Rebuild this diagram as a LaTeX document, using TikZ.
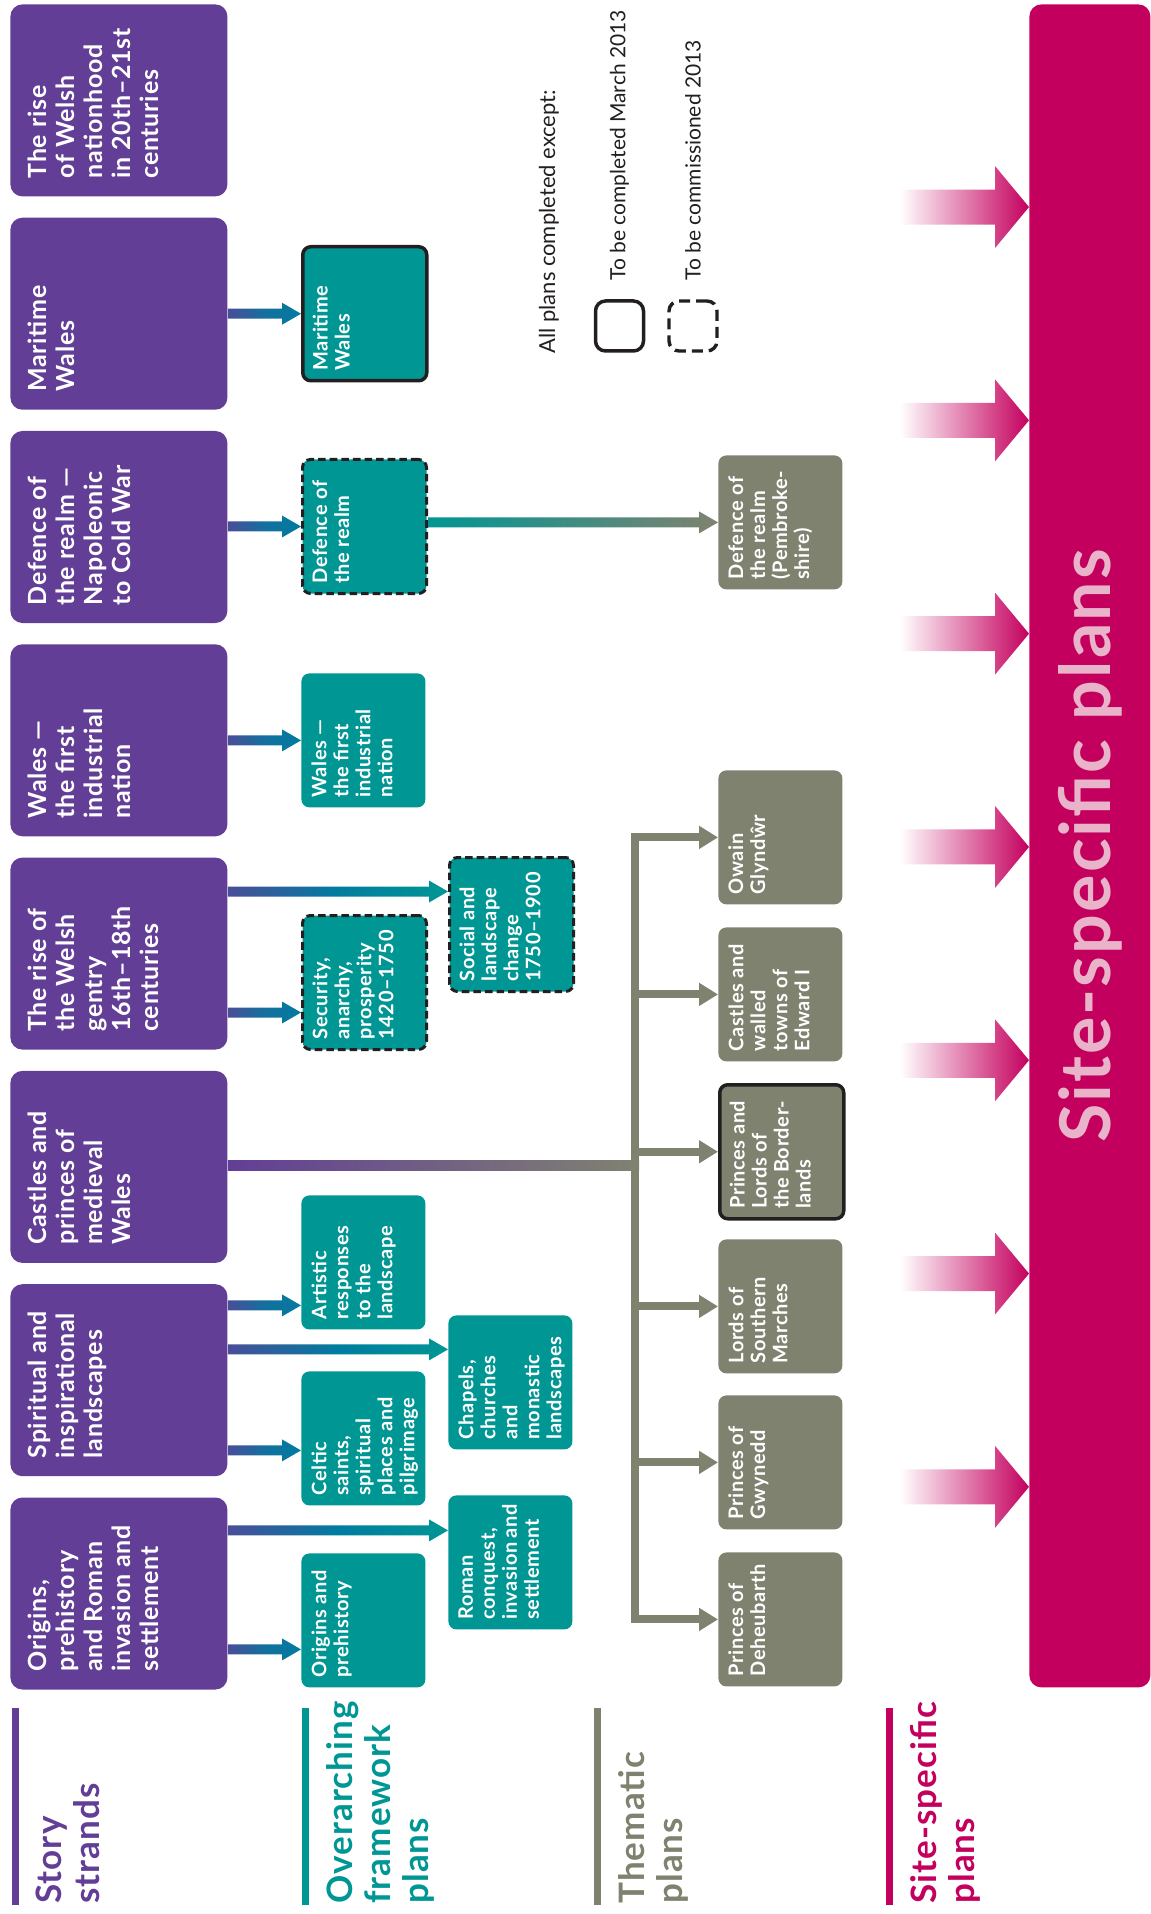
\documentclass[tikz,border=0pt]{standalone}
\usepackage{fontspec}
\setmainfont{Lato}[LetterSpace=3]
\newfontfamily\keyfont{Lato}
\usetikzlibrary{arrows.meta,calc}
\definecolor{storyc}{RGB}{98,62,150}
\definecolor{overc}{RGB}{0,150,148}
\definecolor{themec}{RGB}{128,130,112}
\definecolor{sitec}{RGB}{196,0,94}
\definecolor{feedc}{RGB}{0,124,160}
\definecolor{sitetextc}{RGB}{233,180,201}
\definecolor{inkc}{RGB}{35,31,32}
% text read bottom to top, starting in the lower left corner of its box
\newcommand{\uptext}[3]{\rotatebox{90}{\parbox[c][#1][t]{#2}{\raggedright #3}}}

\begin{document}
\begin{tikzpicture}[x=.5pt,y=-.5pt,line join=round,
  story/.style={fill=storyc,rounded corners=6pt,anchor=north west,
    minimum width=108.5pt,minimum height=96pt,inner sep=9pt,text=white,
    font=\bfseries\fontsize{12.5}{14}\selectfont},
  plan/.style={rounded corners=4pt,anchor=north west,minimum width=62pt,
    minimum height=67pt,inner sep=5pt,text=white,
    font=\bfseries\fontsize{10}{11}\selectfont},
  done/.style={draw=inkc,line width=1.75pt},
  todo/.style={draw=inkc,line width=1.5pt,dash pattern=on 3.8pt off 2pt},
  over/.style={plan,fill=overc},
  overdone/.style={over,done},
  overtodo/.style={over,todo},
  theme/.style={plan,fill=themec},
  themedone/.style={theme,done},
  bus/.style={draw=themec,line width=4pt},
  branch/.style={bus,-{Triangle[length=9.5pt,width=11pt]}},
  catlabel/.style={rotate=90,anchor=north west,inner sep=0pt,align=left,
    font=\bfseries\fontsize{17.5}{19}\selectfont},
  keytext/.style={rotate=90,anchor=west,inner sep=0pt,text=inkc,
    font=\keyfont\fontsize{10.5}{13}\selectfont}]
  \useasboundingbox (0,0) rectangle (1150,1914);

  % story strands, top to bottom
  \foreach \i/\txt in {
    1/{The~rise\\of~Welsh\\nationhood\\in~20th–21st\\centuries},
    2/{Maritime\\Wales},
    3/{Defence~of\\the~realm~—\\Napoleonic\\to~Cold~War},
    4/{Wales~—\\the~first\\industrial\\nation},
    5/{The~rise~of\\the~Welsh\\gentry\\16th–18th\\centuries},
    6/{Castles~and\\princes~of\\medieval\\Wales},
    7/{Spiritual~and\\inspirational\\landscapes},
    8/{Origins,\\prehistory\\and~Roman\\invasion~and\\settlement}}
    \node[story] (s\i) at (10,{4+213.3*(\i-1)}) {\uptext{90.5pt}{78pt}{\txt}};

  % overarching framework plans
  \foreach \n/\x/\y/\st/\txt in {
    o1/301/1553/over/{Origins~and\\prehistory},
    o2/301/1371/over/{Celtic\\saints,\\spiritual\\places~and\\pilgrimage},
    o3/301/1195/over/{Artistic\\responses\\to~the\\landscape},
    o4/301/914/overtodo/{Security,\\anarchy,\\prosperity\\1420–1750},
    o5/301/673/over/{Wales~—\\the~first\\industrial\\nation},
    o6/301/458/overtodo/{Defence~of\\the~realm},
    o7/301/245/overdone/{Maritime\\Wales},
    o8/448/1495/over/{Roman\\conquest,\\invasion~and\\settlement},
    o9/448/1315/over/{Chapels,\\churches\\and\\monastic\\landscapes},
    o10/448/856/overtodo/{Social~and\\landscape\\change\\1750–1900}}
    \node[\st] (\n) at (\x,\y) {\uptext{52pt}{57pt}{\txt}};

  % thematic plans
  \foreach \n/\y/\st/\txt in {
    g1/1552/theme/{Princes~of\\Deheubarth},
    g2/1395/theme/{Princes~of\\Gwynedd},
    g3/1239/theme/{Lords~of\\Southern\\Marches},
    g4/1083/themedone/{Princes~and\\Lords~of\\the~Border-\\lands},
    g5/927/theme/{Castles~and\\walled\\towns~of\\Edward~I},
    g6/770/theme/{Owain\\Glyndŵr},
    g7/455/theme/{Defence~of\\the~realm\\(Pembroke-\\shire)}}
    \node[\st] (\n) at (718,\y) {\uptext{52pt}{57pt}{\txt}};

  \node[fill=sitec,rounded corners=6pt,anchor=north west,minimum width=60.5pt,
    minimum height=841.5pt,inner sep=0pt,text=sitetextc,
    font=\bfseries\fontsize{35}{40}\selectfont] (site) at (1029,4)
    {\rotatebox{90}{Site-specific plans}};

  % shaded arrows into the plans
  \foreach \src/\dst/\dy/\ca/\cb/\cc in {
    s2/o7/0/storyc!75!feedc/feedc!80!storyc/feedc,
    s3/o6/0/storyc!75!feedc/feedc!80!storyc/feedc,
    s4/o5/0/storyc!75!feedc/feedc!80!storyc/feedc,
    s5/o4/-15/storyc!75!feedc/feedc!80!storyc/feedc,
    s5/o10/16.5/storyc!75!feedc/feedc/overc,
    s7/o3/-21.5/storyc!75!feedc/feedc!80!storyc/feedc,
    s7/o9/16.5/storyc!75!feedc/feedc/overc,
    s7/o2/-6/storyc!75!feedc/feedc!80!storyc/feedc,
    s8/o8/16/storyc!75!feedc/feedc/overc,
    s8/o1/-14.5/storyc!75!feedc/feedc!80!storyc/feedc,
    o6/g7/0/overc/overc!50!themec/themec}{
    \coordinate (tip) at ([yshift=\dy pt]\dst.west);
    \coordinate (tail) at (\src.east |- tip);
    \shade[left color=\ca,right color=\cc,middle color=\cb]
      ([yshift=2.5pt]tail) -- ([xshift=-9.5pt,yshift=2.5pt]tip)
      -- ([xshift=-9.5pt,yshift=5.5pt]tip) -- (tip)
      -- ([xshift=-9.5pt,yshift=-5.5pt]tip)
      -- ([xshift=-9.5pt,yshift=-2.5pt]tip) -- ([yshift=-2.5pt]tail) -- cycle;
  }

  % castles strand feeds the thematic bus
  \coordinate (bus) at (635,1165);
  \coordinate (castlesout) at (s6.east |- bus);
  \shade[left color=storyc,right color=themec]
    ([yshift=2.5pt]castlesout) rectangle ([xshift=2pt,yshift=-2.5pt]bus);
  \draw[bus,line cap=rect] (bus |- g6.west) -- (bus |- g1.west);
  \foreach \g in {g1,g2,g3,g4,g5,g6}
    \draw[branch] (bus |- \g.west) -- (\g.west);

  % pink arrows between the strands
  \foreach \a/\b in {s1/s2,s2/s3,s3/s4,s4/s5,s5/s6,s6/s7,s7/s8}{
    \coordinate (gap) at ($(\a.south)!.5!(\b.north)$);
    \coordinate (ptip) at (gap -| site.west);
    \shade[left color=white,right color=sitec]
      ([xshift=-64.5pt,yshift=8.75pt]ptip) -- ([xshift=-17pt,yshift=8.75pt]ptip)
      -- ([xshift=-17pt,yshift=20.5pt]ptip) -- (ptip)
      -- ([xshift=-17pt,yshift=-20.5pt]ptip)
      -- ([xshift=-17pt,yshift=-8.75pt]ptip)
      -- ([xshift=-64.5pt,yshift=-8.75pt]ptip) -- cycle;
  }

  % key
  \node[keytext,font=\keyfont\fontsize{11}{13}\selectfont] (keytitle)
    at (549,354) {All plans completed except:};
  \node[done,rounded corners=5pt,minimum width=24pt,minimum height=25pt]
    (keydone) at (619.5,326) {};
  \node[todo,rounded corners=5pt,line width=1.7pt,dash pattern=on 5.5pt off 3pt,
    minimum width=24pt,minimum height=25pt] (keytodo) at (693,326) {};
  \node[keytext] (keydonetext) at (619.5,281) {To be completed March 2013};
  \node[keytext] (keytodotext) at (693,281) {To be commissioned 2013};

  % column headings
  \foreach \x/\col/\txt/\n in {
    15/storyc/{Story\\strands}/c1,
    305/overc/{Overarching\\framework\\plans}/c2,
    597/themec/{Thematic\\plans}/c3,
    889/sitec/{Site-specific\\plans}/c4}{
    \draw[\col,line width=3.5pt] (\x,1708) -- (\x,1905);
    \node[catlabel,text=\col] (\n) at (\x+21,1904) {\txt};
  }
\end{tikzpicture}
\end{document}
